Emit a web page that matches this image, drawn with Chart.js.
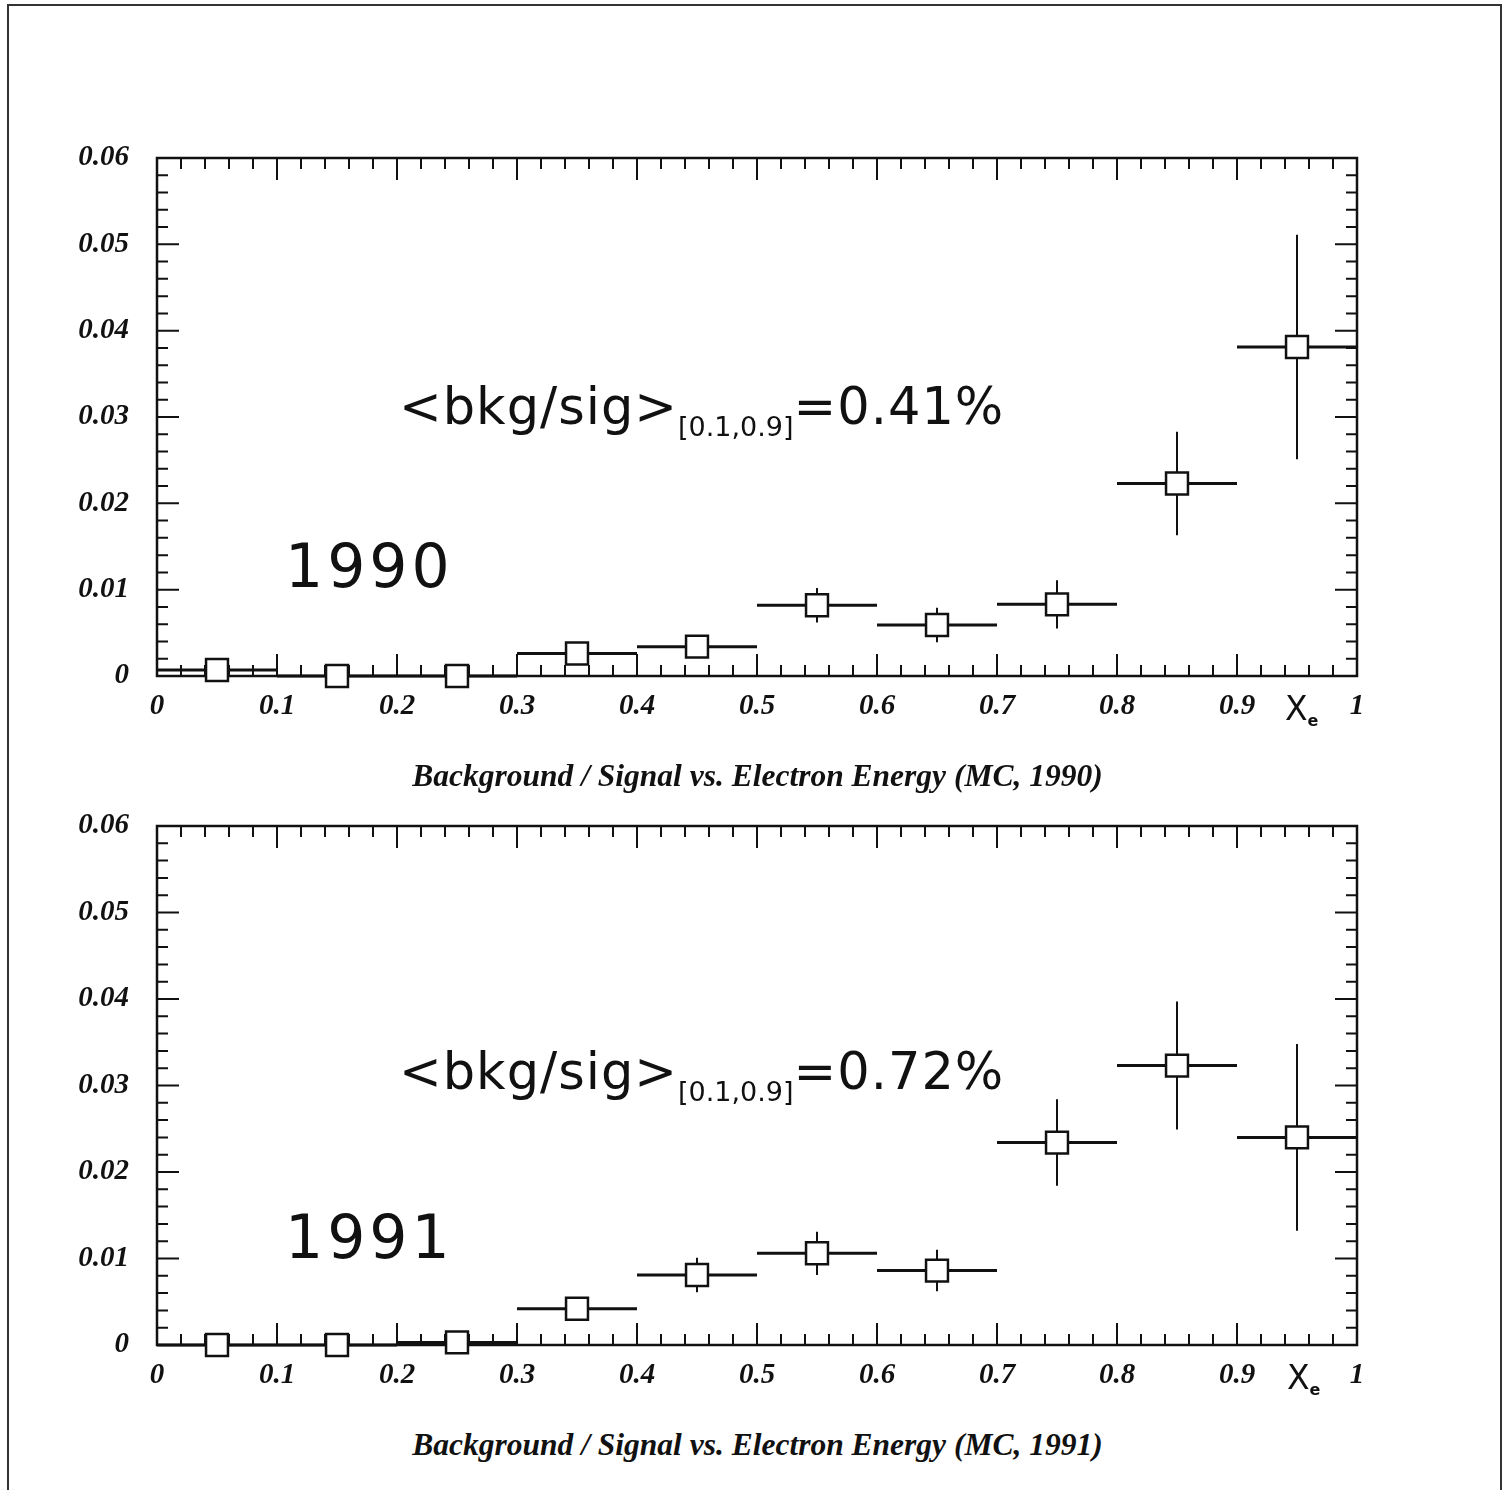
<!DOCTYPE html>
<html>
<head>
<meta charset="utf-8">
<script src="https://cdn.jsdelivr.net/npm/chart.js@4.4.1/dist/chart.umd.min.js"></script>
<style>
    body { margin: 0; background: #fff; }
    #page { position: relative; width: 1505px; height: 1490px; overflow: hidden; background: #fff; }
    #frame { position: absolute; left: 7px; top: 4px; width: 1491px; height: 1500px; border: 2px solid #333; border-bottom: none; }
    canvas { position: absolute; left: 0; }
    .txt { position: absolute; white-space: nowrap; color: #111; line-height: 1; }
    .note { font-family: "DejaVu Sans", sans-serif; font-size: 51px; letter-spacing: 1px; }
    .note sub { font-size: 27px; vertical-align: -12px; letter-spacing: 0; }
    .year { font-family: "DejaVu Sans", sans-serif; font-size: 60px; letter-spacing: 4px; }
    .xe { font-family: "DejaVu Sans", sans-serif; font-size: 33px; }
    .xe sub { font-size: 16px; font-weight: bold; vertical-align: -6px; }
    .caption { font-family: "Liberation Serif", "Times New Roman", serif; font-weight: bold; font-style: italic; font-size: 31.5px; width: 1515px; text-align: center; left: 0; }
</style>
</head>
<body>
<div id="page">
    <div id="frame"></div>
    <canvas id="chart1990" width="1505" height="740" style="top:0px"></canvas>
    <canvas id="chart1991" width="1505" height="665" style="top:745px"></canvas>

    <div class="txt note" style="left:399px; top:381px">&lt;bkg/sig&gt;<sub>[0.1,0.9]</sub>=0.41%</div>
    <div class="txt year" style="left:285px; top:536px">1990</div>
    <div class="txt xe" style="left:1285px; top:692px">X<sub>e</sub></div>
    <div class="txt caption" style="top:760px">Background / Signal vs. Electron Energy (MC, 1990)</div>

    <div class="txt note" style="left:399px; top:1046px">&lt;bkg/sig&gt;<sub>[0.1,0.9]</sub>=0.72%</div>
    <div class="txt year" style="left:285px; top:1207px">1991</div>
    <div class="txt xe" style="left:1287px; top:1361px">X<sub>e</sub></div>
    <div class="txt caption" style="top:1429px">Background / Signal vs. Electron Energy (MC, 1991)</div>
</div>

<script>
// bin centres of the electron energy fraction x_e
const binCenters = [0.05, 0.15, 0.25, 0.35, 0.45, 0.55, 0.65, 0.75, 0.85, 0.95];
const binHalfWidth = 0.05;

// background / signal, MC 1990
const ratio1990 = [0.0007, 0.0, 0.0, 0.0026, 0.0034, 0.0082, 0.0059, 0.0083, 0.0223, 0.0381];
const err1990   = [0.0002, 0.0, 0.0, 0.0003, 0.0005, 0.0020, 0.0020, 0.0028, 0.0060, 0.0130];

// background / signal, MC 1991
const ratio1991 = [0.0, 0.0, 0.0003, 0.0042, 0.0081, 0.0106, 0.0086, 0.0234, 0.0323, 0.0240];
const err1991   = [0.0, 0.0, 0.0002, 0.0004, 0.0020, 0.0025, 0.0024, 0.0050, 0.0074, 0.0108];

const xTicks = [0, 0.1, 0.2, 0.3, 0.4, 0.5, 0.6, 0.7, 0.8, 0.9, 1];
const yTicks = [0, 0.01, 0.02, 0.03, 0.04, 0.05, 0.06];

const tickFont = { family: "'Liberation Serif', 'Times New Roman', serif", size: 29, weight: 'bold', style: 'italic' };

// frame with inward ticks on all four sides
const frameTicks = {
    id: 'frameTicks',
    beforeDatasetsDraw(chart) {
        const { ctx, chartArea: a, scales: { x, y } } = chart;
        ctx.save();
        ctx.strokeStyle = '#111';
        ctx.lineWidth = 2.5;
        ctx.strokeRect(a.left, a.top, a.right - a.left, a.bottom - a.top);
        ctx.lineWidth = 2;
        ctx.beginPath();
        for (let i = 0; i <= 50; i++) {
            const px = x.getPixelForValue(i / 50);
            const len = i % 5 === 0 ? 22 : 11;
            ctx.moveTo(px, a.bottom); ctx.lineTo(px, a.bottom - len);
            ctx.moveTo(px, a.top); ctx.lineTo(px, a.top + len);
        }
        for (let i = 0; i <= 30; i++) {
            const py = y.getPixelForValue(i * 0.002);
            const len = i % 5 === 0 ? 22 : 11;
            ctx.moveTo(a.left, py); ctx.lineTo(a.left + len, py);
            ctx.moveTo(a.right, py); ctx.lineTo(a.right - len, py);
        }
        ctx.stroke();
        ctx.restore();
    }
};

// horizontal bin width + vertical error bars, drawn under the markers
const errorBars = {
    id: 'errorBars',
    beforeDatasetsDraw(chart) {
        const { ctx, scales: { x, y } } = chart;
        chart.data.datasets.forEach(ds => {
            ds.data.forEach((p, i) => {
                const err = ds.errors[i];
                const py = y.getPixelForValue(p.y);
                ctx.save();
                ctx.strokeStyle = '#111';
                ctx.lineWidth = 3;
                ctx.beginPath();
                ctx.moveTo(x.getPixelForValue(p.x - binHalfWidth), py);
                ctx.lineTo(x.getPixelForValue(p.x + binHalfWidth), py);
                ctx.stroke();
                if (err > 0) {
                    const px = x.getPixelForValue(p.x);
                    ctx.lineWidth = 2;
                    ctx.beginPath();
                    ctx.moveTo(px, y.getPixelForValue(p.y + err));
                    ctx.lineTo(px, y.getPixelForValue(Math.max(p.y - err, 0)));
                    ctx.stroke();
                }
                ctx.restore();
            });
        });
    }
};

function makeChart(id, values, errors, topPad, axisHeight) {
    const ctx = document.getElementById(id).getContext('2d');
    return new Chart(ctx, {
        type: 'scatter',
        data: {
            datasets: [{
                data: binCenters.map((c, i) => ({ x: c, y: values[i] })),
                errors: errors,
                pointStyle: 'rect',
                pointRadius: 15.5,
                pointBackgroundColor: '#fff',
                pointBorderColor: '#111',
                pointBorderWidth: 2.5,
                clip: false
            }]
        },
        options: {
            responsive: false,
            animation: false,
            devicePixelRatio: 1,
            layout: { padding: { top: topPad, right: 148, left: 0, bottom: 0 } },
            plugins: { legend: { display: false }, tooltip: { enabled: false } },
            scales: {
                x: {
                    type: 'linear', min: 0, max: 1,
                    afterBuildTicks: s => { s.ticks = xTicks.map(v => ({ value: v })); },
                    afterFit: s => { s.height = axisHeight; },
                    grid: { display: false, drawTicks: false },
                    border: { display: false },
                    ticks: {
                        font: tickFont, color: '#111', padding: 13, maxRotation: 0, autoSkip: false,
                        callback: v => String(Number(v.toFixed(1)))
                    }
                },
                y: {
                    min: 0, max: 0.06,
                    afterBuildTicks: s => { s.ticks = yTicks.map(v => ({ value: v })); },
                    afterFit: s => { s.width = 157; },
                    grid: { display: false, drawTicks: false },
                    border: { display: false },
                    ticks: {
                        font: tickFont, color: '#111', padding: 28, autoSkip: false,
                        callback: v => (v === 0 ? '0' : v.toFixed(2))
                    }
                }
            }
        },
        plugins: [frameTicks, errorBars]
    });
}

document.addEventListener('DOMContentLoaded', function () {
    makeChart('chart1990', ratio1990, err1990, 158, 64);
    makeChart('chart1991', ratio1991, err1991, 81, 65);
});
</script>
</body>
</html>
